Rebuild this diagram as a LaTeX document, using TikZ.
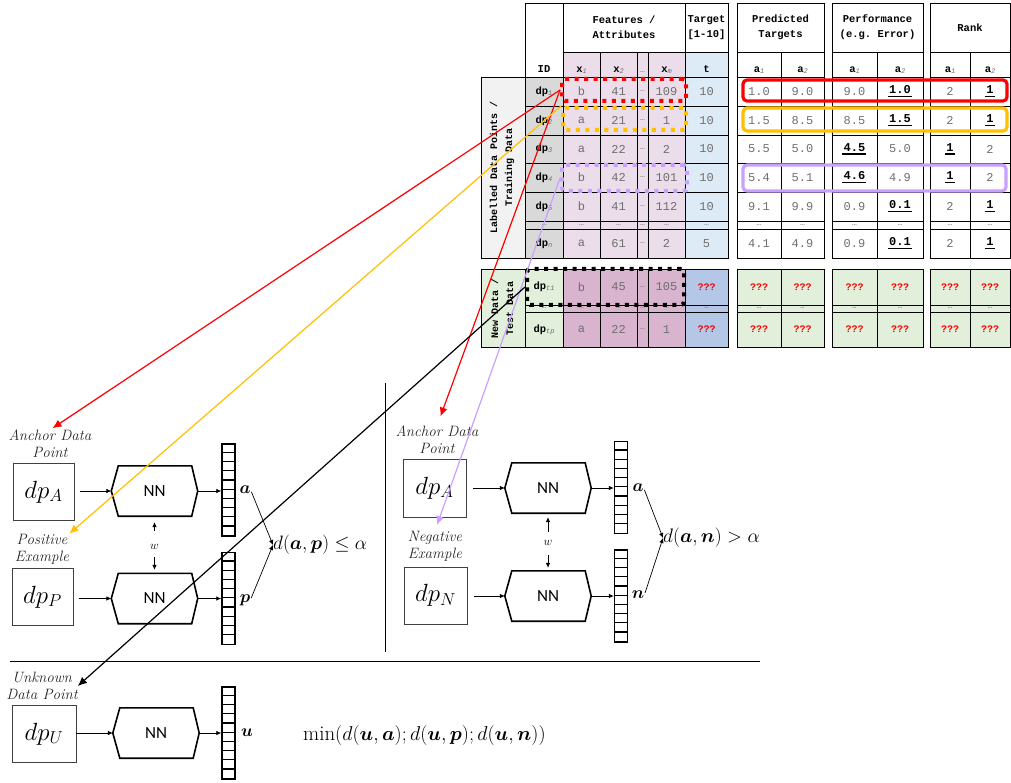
\documentclass[tikz,border=0pt]{standalone}
\usepackage{amsmath}
\usepackage{bm}
\usepackage{fontspec}
\setmonofont{Liberation Mono}
\newfontfamily\nnfont{Carlito}
\usetikzlibrary{arrows.meta,calc}
\definecolor{lblgray}{HTML}{F2F2F2}
\definecolor{idgray}{HTML}{D9D9D9}
\definecolor{featpink}{HTML}{EBDDE9}
\definecolor{tgtblue}{HTML}{DDEBF7}
\definecolor{testgreen}{HTML}{E2EFDA}
\definecolor{featmauve}{HTML}{D8B4CE}
\definecolor{tgtblue2}{HTML}{B4C7E7}
\definecolor{valgray}{HTML}{6F6F6F}
\definecolor{hlred}{HTML}{FF0000}
\definecolor{hlorange}{HTML}{FFC000}
\definecolor{hlpurple}{HTML}{C9A0FF}
\definecolor{txtdark}{HTML}{262626}

\newcommand\tcell[8]{%
  \pgfmathsetmacro\cw{#3-#1}\pgfmathsetmacro\ch{#4-#2}%
  \pgfmathsetmacro\cx{(#1+#3)/2}\pgfmathsetmacro\cy{(#2+#4)/2}%
  \node[tcellst,fill=#5,minimum width=\cw pt,minimum height=\ch pt,#8] (#6) at (\cx,\cy) {#7};}
\newcommand\idt[1]{{\color{black}\bfseries\fontsize{10.5}{12}\selectfont dp}\raisebox{-1pt}{\fontsize{7}{8}\selectfont\itshape #1}}
\newcommand\hsub[2]{{\color{black}\bfseries\fontsize{10.5}{12}\selectfont #1}\raisebox{-0.5pt}{\color{valgray}\fontsize{7}{8}\selectfont\itshape #2}}
\newcommand\dotc{{\fontsize{8}{8}\selectfont …}}
\newcommand\rdot{{\color{red}\fontsize{7}{7}\selectfont …}}
\newcommand\qq{{\color{red}\bfseries\fontsize{10}{12}\selectfont ???}}
\newcommand\bv[1]{{\color{black}\bfseries\setbox0\hbox{#1}\rlap{\kern-1.5pt\raisebox{-3.5pt}{\rule{\dimexpr\wd0+2.5pt\relax}{1.6pt}}}\box0}}
\def\cid{idgray}\def\cfeat{featpink}\def\ctgt{tgtblue}\def\cperf{white}
\newcommand\featrow[8]{%
  \tcell{525}{#2}{563}{#3}{\cid}{id#1}{#4}{}
  \tcell{563}{#2}{600}{#3}{\cfeat}{xa#1}{#5}{}
  \tcell{600}{#2}{637}{#3}{\cfeat}{xb#1}{#6}{}
  \tcell{637}{#2}{648}{#3}{\cfeat}{xd#1}{\dotc}{}
  \tcell{648}{#2}{685}{#3}{\cfeat}{xm#1}{#7}{}
  \tcell{685}{#2}{728}{#3}{\ctgt}{tg#1}{#8}{}}
\newcommand\perfrow[9]{%
  \tcell{737}{#2}{781}{#3}{\cperf}{pa#1}{#4}{}
  \tcell{781}{#2}{824}{#3}{\cperf}{pb#1}{#5}{}
  \tcell{832}{#2}{877}{#3}{\cperf}{ea#1}{#6}{}
  \tcell{877}{#2}{923}{#3}{\cperf}{eb#1}{#7}{}
  \tcell{930}{#2}{970}{#3}{\cperf}{ra#1}{#8}{}
  \tcell{970}{#2}{1010}{#3}{\cperf}{rb#1}{#9}{}}
\newcommand\hexnode[3]{%
  \node[minimum width=86pt,minimum height=50pt,inner sep=0pt,font=\nnfont\fontsize{17}{17}\selectfont] (#1) at (#2,#3) {NN};
  \draw[line width=1.6pt,line join=miter] (#1.west) -- ($(#1.north west)+(7,0)$) -- ($(#1.north east)+(-6,0)$) -- (#1.east) -- ($(#1.south east)+(-6,0)$) -- ($(#1.south west)+(7,0)$) -- cycle;}
\newcommand\vecnode[3]{%
  \node[draw,line width=1.5pt,minimum width=13pt,minimum height=92pt,inner sep=0pt] (#1) at (#2,#3) {};
  \foreach \k in {1,...,9} \draw[line width=1.2pt] ($(#1.north west)+(0,\k*9.2)$) -- ($(#1.north east)+(0,\k*9.2)$);}

\begin{document}
\begin{tikzpicture}[x=1pt,y=-1pt,
  tcellst/.style={draw=black,line width=0.8pt,inner sep=0pt,align=center,font=\ttfamily\fontsize{12}{13}\selectfont,text=valgray},
  hdr/.style={font=\ttfamily\bfseries\fontsize{10.5}{15}\selectfont,text=black},
  subh/.style={anchor=base,inner sep=0pt,font=\ttfamily\fontsize{10.5}{12}\selectfont},
  rotlbl/.style={rotate=90,align=center,inner sep=0pt,font=\ttfamily\bfseries\fontsize{10}{15}\selectfont},
  hldot/.style={line width=4pt,dash pattern=on 4pt off 5.5pt,rounded corners=3pt,inner sep=0pt},
  hlsolid/.style={line width=3.2pt,rounded corners=4pt,inner sep=0pt},
  dpbox/.style={draw=black!75,line width=0.8pt,minimum width=61pt,minimum height=57pt,inner sep=0pt,font=\fontsize{26}{30}\selectfont},
  itlbl/.style={align=center,font=\itshape\fontsize{15}{17}\selectfont,text=txtdark,inner sep=0pt},
  vlbl/.style={font=\fontsize{18}{20}\selectfont,inner sep=0pt},
  wlbl/.style={font=\fontsize{12}{12}\selectfont,inner sep=0pt},
  sarr/.style={-{Latex[length=5pt,width=4.5pt]},line width=0.7pt},
  larr/.style={-{Latex[length=9pt,width=8pt]},line width=1.2pt}]
\useasboundingbox (0,0) rectangle (1011,783);

% ---------- headers ----------
\tcell{525}{3}{563}{77}{white}{hID}{}{}
\node[subh] (hIDt) at (544,73) {\bfseries ID};
\tcell{563}{3}{685}{52}{white}{hFeat}{Features /\\Attributes}{hdr}
\tcell{685}{3}{728}{52}{white}{hTgt}{Target\\{[1-10]}}{hdr}
\tcell{563}{52}{600}{77}{featpink}{sx1}{}{}
\tcell{600}{52}{637}{77}{featpink}{sx2}{}{}
\tcell{637}{52}{648}{77}{featpink}{sxd}{}{}
\tcell{648}{52}{685}{77}{featpink}{sxm}{}{}
\tcell{685}{52}{728}{77}{tgtblue}{st}{}{}
\node[subh] (sx1t) at (581.5,73) {\hsub{x}{1}};
\node[subh] (sx2t) at (618.5,73) {\hsub{x}{2}};
\node[subh,text=valgray] (sxdt) at (642.5,73) {\dotc};
\node[subh] (sxmt) at (666.5,73) {\hsub{x}{m}};
\node[subh] (stt) at (706.5,73) {\bfseries t};

\tcell{737}{3}{824}{52}{white}{hPred}{Predicted\\Targets}{hdr}
\tcell{832}{3}{923}{52}{white}{hPerf}{Performance\\(e.g. Error)}{hdr}
\tcell{930}{3}{1010}{52}{white}{hRank}{Rank}{hdr}
\tcell{737}{52}{781}{77}{white}{spa}{}{}
\tcell{781}{52}{824}{77}{white}{spb}{}{}
\tcell{832}{52}{877}{77}{white}{sea}{}{}
\tcell{877}{52}{923}{77}{white}{seb}{}{}
\tcell{930}{52}{970}{77}{white}{sra}{}{}
\tcell{970}{52}{1010}{77}{white}{srb}{}{}
\node[subh] (spat) at (759,73) {\hsub{a}{1}};
\node[subh] (spbt) at (802.5,73) {\hsub{a}{2}};
\node[subh] (seat) at (854.5,73) {\hsub{a}{1}};
\node[subh] (sebt) at (900,73) {\hsub{a}{2}};
\node[subh] (srat) at (950,73) {\hsub{a}{1}};
\node[subh] (srbt) at (990,73) {\hsub{a}{2}};

% ---------- labels ----------
\tcell{481}{77}{525}{258}{lblgray}{lblTr}{}{}
\node[rotlbl] (lblTrT) at (502,167.5) {Labelled Data Points /\\Training Data};
\tcell{481}{269}{525}{347}{testgreen}{lblTe}{}{}
\node[rotlbl] (lblTeT) at (502,308) {New Data /\\Test Data};

% ---------- training rows ----------
\featrow{1}{77}{106}{\idt{1}}{b}{41}{109}{10}
\featrow{2}{106}{135}{\idt{2}}{a}{21}{1}{10}
\featrow{3}{135}{163}{\idt{3}}{a}{22}{2}{10}
\featrow{4}{163}{192}{\idt{4}}{b}{42}{101}{10}
\featrow{5}{192}{221}{\idt{5}}{b}{41}{112}{10}
\featrow{d}{221}{229}{\dotc}{\dotc}{\dotc}{\dotc}{\dotc}
\featrow{n}{229}{258}{\idt{n}}{a}{61}{2}{5}
\perfrow{1}{77}{106}{1.0}{9.0}{9.0}{\bv{1.0}}{2}{\bv{1}}
\perfrow{2}{106}{135}{1.5}{8.5}{8.5}{\bv{1.5}}{2}{\bv{1}}
\perfrow{3}{135}{163}{5.5}{5.0}{\bv{4.5}}{5.0}{\bv{1}}{2}
\perfrow{4}{163}{192}{5.4}{5.1}{\bv{4.6}}{4.9}{\bv{1}}{2}
\perfrow{5}{192}{221}{9.1}{9.9}{0.9}{\bv{0.1}}{2}{\bv{1}}
\perfrow{d}{221}{229}{\dotc}{\dotc}{\dotc}{\dotc}{\dotc}{\dotc}
\perfrow{n}{229}{258}{4.1}{4.9}{0.9}{\bv{0.1}}{2}{\bv{1}}

% ---------- test rows ----------
\def\cid{testgreen}\def\cfeat{featmauve}\def\ctgt{tgtblue2}\def\cperf{testgreen}
\featrow{t1}{269}{305}{\idt{t1}}{b}{45}{105}{\qq}
\featrow{td}{305}{312}{\dotc}{\dotc}{\dotc}{\dotc}{\rdot}
\featrow{tp}{312}{347}{\idt{tp}}{a}{22}{1}{\qq}
\perfrow{t1}{269}{305}{\qq}{\qq}{\qq}{\qq}{\qq}{\qq}
\perfrow{td}{305}{312}{\rdot}{\rdot}{\rdot}{\rdot}{\rdot}{\rdot}
\perfrow{tp}{312}{347}{\qq}{\qq}{\qq}{\qq}{\qq}{\qq}

% ---------- highlights ----------
\node[hldot,draw=hlred,minimum width=124pt,minimum height=22pt] (hlR) at (624,90) {};
\node[hldot,draw=hlorange,minimum width=123pt,minimum height=22pt] (hlO) at (624.5,119) {};
\node[hldot,draw=hlpurple,minimum width=125pt,minimum height=26pt] (hlP) at (624.5,178) {};
\node[hldot,draw=black,minimum width=157pt,minimum height=36pt] (hlK) at (605.5,287) {};
\node[hlsolid,draw=hlred,minimum width=264pt,minimum height=21pt] (hsR) at (875,90.5) {};
\node[hlsolid,draw=hlorange,minimum width=264pt,minimum height=23pt] (hsO) at (875,119.5) {};
\node[hlsolid,draw=hlpurple,minimum width=263pt,minimum height=26pt] (hsP) at (874.5,178) {};

% ---------- separators ----------
\draw[line width=0.8pt] (385,383) -- (385,652);
\draw[line width=0.8pt] (10,661) -- (760,661);

% ---------- left triplet ----------
\node[itlbl] (ancL) at (50,444) {Anchor Data\\Point};
\node[dpbox] (boxA1) at (43.5,492) {$dp_A$};
\hexnode{hexA1}{154.5}{491}
\vecnode{vecA1}{228.5}{490}
\node[vlbl] (la1) at (245,490) {$\bm a$};
\node[itlbl] (posL) at (42,549) {Positive\\Example};
\node[dpbox] (boxP) at (42.5,597) {$dp_P$};
\hexnode{hexP}{154.5}{598.5}
\vecnode{vecP}{228.5}{598.5}
\node[vlbl] (lp) at (245,600) {$\bm p$};
\node[vlbl,anchor=west] (dAP) at (273,545) {\scalebox{1.12}{$d(\bm a,\bm p)\le\alpha$}};
\node[wlbl] (w1) at (154.5,547) {$w$};
\draw[sarr,shorten <=6pt] (boxA1.east |- hexA1.west) -- (hexA1.west);
\draw[sarr] (hexA1.east) -- (vecA1.west |- hexA1.east);
\draw[sarr,shorten <=6pt] (boxP.east |- hexP.west) -- (hexP.west);
\draw[sarr] (hexP.east) -- (vecP.west |- hexP.east);
\draw[sarr,shorten <=2pt] (la1.east) -- (dAP.west);
\draw[sarr,shorten <=2pt] (lp.east) -- (dAP.west);
\draw[sarr,shorten <=16pt,shorten >=6pt] (w1.center) -- (hexA1.south);
\draw[sarr,shorten <=10pt,shorten >=3.5pt] (w1.center) -- (hexP.north);

% ---------- right triplet ----------
\node[itlbl] (ancR) at (437,440) {Anchor Data\\Point};
\node[dpbox,minimum width=63pt,minimum height=58pt] (boxA2) at (434.5,488) {$dp_A$};
\hexnode{hexA2}{548}{488}
\vecnode{vecA2}{621}{487.5}
\node[vlbl] (la2) at (638,488) {$\bm a$};
\node[itlbl] (negL) at (435,546) {Negative\\Example};
\node[dpbox,minimum width=63pt,minimum height=57pt] (boxN) at (435.5,595.5) {$dp_N$};
\hexnode{hexN}{548}{596}
\vecnode{vecN}{621}{596}
\node[vlbl] (ln) at (638,595) {$\bm n$};
\node[vlbl,anchor=west] (dAN) at (663,538) {\scalebox{1.13}{$d(\bm a,\bm n)>\alpha$}};
\node[wlbl] (w2) at (548,543) {$w$};
\draw[sarr,shorten <=7pt] (boxA2.east |- hexA2.west) -- (hexA2.west);
\draw[sarr] (hexA2.east) -- (vecA2.west |- hexA2.east);
\draw[sarr,shorten <=7pt] (boxN.east |- hexN.west) -- (hexN.west);
\draw[sarr] (hexN.east) -- (vecN.west |- hexN.east);
\draw[sarr,shorten <=2pt] (la2.east) -- (dAN.west);
\draw[sarr,shorten <=2pt] (ln.east) -- (dAN.west);
\draw[sarr,shorten <=11pt,shorten >=4pt] (w2.center) -- (hexA2.south);
\draw[sarr,shorten <=12pt,shorten >=3pt] (w2.center) -- (hexN.north);

% ---------- bottom row ----------
\node[itlbl] (unkL) at (42,686) {Unknown\\Data Point};
\node[dpbox,minimum width=64pt] (boxU) at (44,734) {$dp_U$};
\hexnode{hexU}{156}{733}
\vecnode{vecU}{228.5}{733}
\node[vlbl] (lu) at (247,733) {$\bm u$};
\node[vlbl,anchor=west] (minT) at (303,735) {\scalebox{1.16}{$\min(d(\bm u,\bm a);d(\bm u,\bm p);d(\bm u,\bm n))$}};
\draw[sarr] (boxU.east |- hexU.west) -- (hexU.west);
\draw[sarr] (hexU.east) -- (vecU.west |- hexU.east);

% ---------- long arrows ----------
\draw[larr,hlred,shorten >=3pt] (hlR.west) -- (ancL.north);
\draw[larr,hlred,shorten >=10pt] (hlR.west) -- (ancR.north);
\draw[larr,hlorange] (hlO.north west) -- (posL.north east);
\draw[larr,hlpurple,shorten >=6pt] (hlP.west) -- (negL.north);
\draw[larr,black] (hlK.west) -- (unkL.east);
\end{tikzpicture}
\end{document}
